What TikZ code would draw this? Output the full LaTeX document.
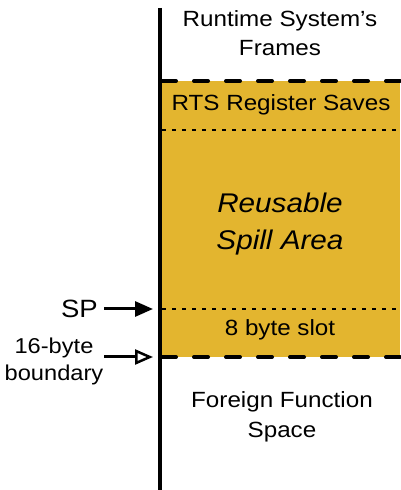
\documentclass[tikz,border=0pt]{standalone}
\usepackage{fontspec}
\setmainfont[FakeStretch=1.1]{Liberation Sans}
\usetikzlibrary{arrows.meta}
\definecolor{gold}{RGB}{227,181,47}
\tikzset{
  lbl/.style={align=center, inner sep=0pt, font=\fontsize{22}{29.5}\selectfont},
  dashline/.style={line width=4pt, line cap=round, dash pattern=on 14pt off 18pt},
  dotline/.style={line width=2.3pt, dash pattern=on 4pt off 6pt},
  ptr/.style={line width=3pt, -{Triangle[length=18pt,width=15pt]}},
  ptropen/.style={line width=3pt, -{Triangle[open,length=18pt,width=15pt,line width=2.5pt]}}
}
\begin{document}
\begin{tikzpicture}[x=1pt,y=1pt]
\useasboundingbox (0,0) rectangle (400,490);
\fill[gold] (160,409) rectangle (400,133);
\draw[dashline] (162,409) -- (400,409);
\draw[dashline] (162,133) -- (400,133);
\draw[dotline] (162,360) -- (400,360);
\draw[dotline] (162,181) -- (400,181);
\draw[line width=4.5pt] (160,482) -- (160,0);
\coordinate (spT) at (153,181);
\coordinate (bdT) at (153,133);
\node[lbl] (rts) at (280,457) {Runtime System’s\\Frames};
\node[lbl] (regs) at (281,385) {RTS Register Saves};
\node[lbl, font=\fontsize{27}{37}\selectfont\itshape] (spill) at (280,266) {Reusable\\Spill Area};
\node[lbl] (slot) at (280,160) {8 byte slot};
\node[lbl] (ffs) at (282,73) {Foreign Function\\Space};
\node[lbl, font=\fontsize{25}{29}\selectfont, anchor=east] (sp) at (98,181) {SP};
\node[lbl, font=\fontsize{21.5}{27}\selectfont] (bd) at (54,129) {16-byte\\boundary};
\draw[ptr] (104,181) coordinate (spS) -- (spT);
\draw[ptropen] (104,133) coordinate (bdS) -- (bdT);
\end{tikzpicture}
\end{document}
